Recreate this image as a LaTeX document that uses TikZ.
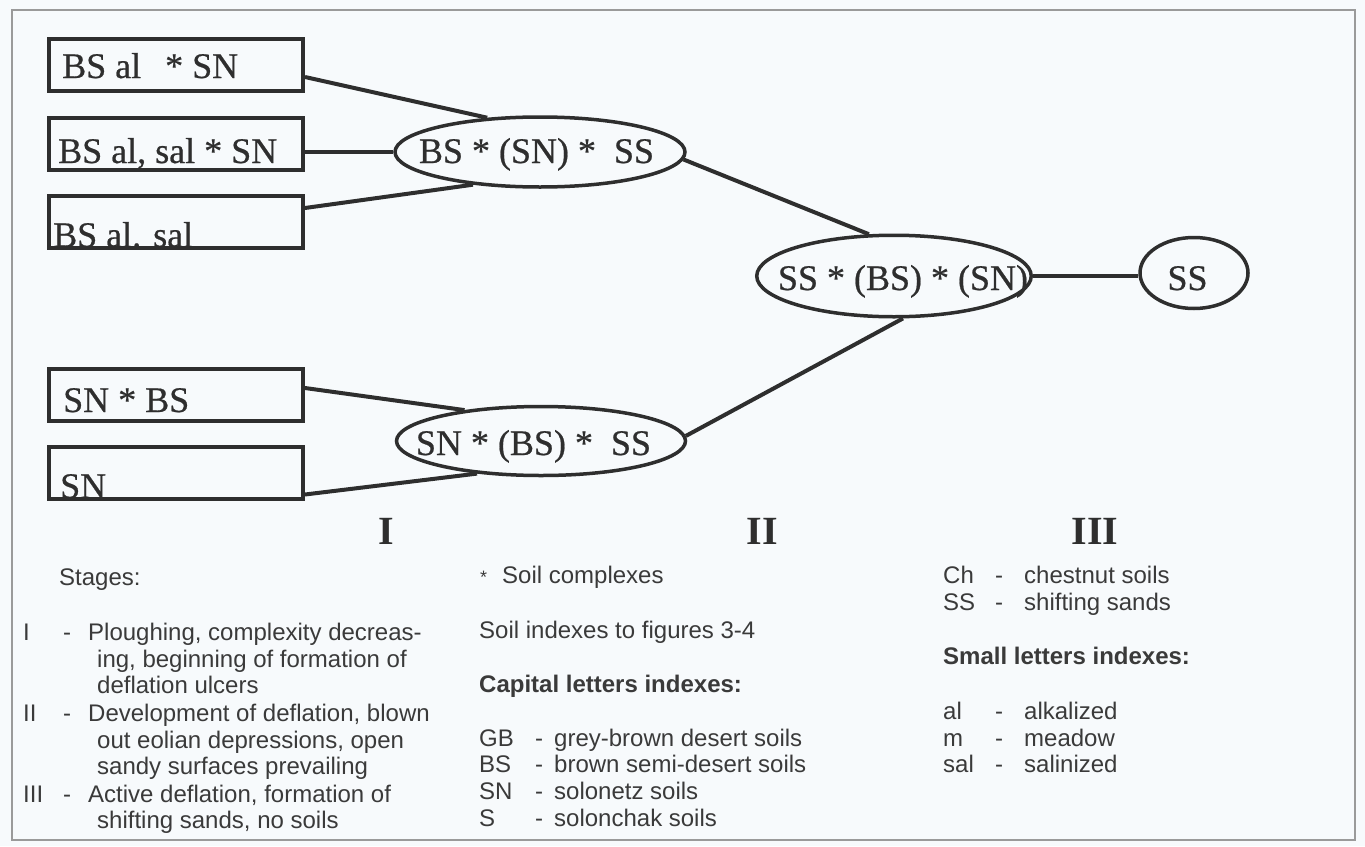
\documentclass[tikz,border=0pt]{standalone}
\usepackage{fontspec}
\setmainfont{Liberation Serif}
\newfontfamily\serifb{Liberation Serif}[FakeBold=0.6]
\newfontfamily\lsans{Liberation Sans}
\usetikzlibrary{shapes.geometric,calc}
\definecolor{ink}{HTML}{2E2E2E}
\definecolor{lgink}{HTML}{3A3A3A}
\definecolor{bg}{HTML}{F7FAFC}
\definecolor{framec}{HTML}{9A9A9A}
\begin{document}
\begin{tikzpicture}[x=1pt,y=-1pt,
  box/.style={draw=ink, line width=4pt, minimum width=254pt, minimum height=52pt, inner sep=0pt},
  ell/.style={ellipse, draw=ink, line width=3.5pt, inner sep=0pt},
  link/.style={draw=ink, line width=4pt},
  bt/.style={anchor=base west, inner sep=0pt, font=\serifb\fontsize{36}{36}\selectfont, text=ink},
  et/.style={anchor=base, inner sep=0pt, font=\serifb\fontsize{36}{36}\selectfont, text=ink},
  rn/.style={anchor=base, inner sep=0pt, font=\fontsize{40}{40}\selectfont\bfseries, text=ink},
  lg/.style={anchor=base west, inner sep=0pt, font=\lsans\fontsize{24}{26}\selectfont, text=lgink},
  lgb/.style={anchor=base west, inner sep=0pt, font=\lsans\bfseries\fontsize{24}{26}\selectfont, text=lgink}]

\fill[bg] (0,0) rectangle (1365,846);
\path[use as bounding box] (0,0) rectangle (1365,846);
\draw[framec, line width=1.5pt] (12,10) rectangle (1355,840);

% boxes
\node[box] (b1) at (176,65) {};
\node[box] (b2) at (176,143.5) {};
\node[box] (b3) at (176,221.5) {};
\node[box] (b4) at (176,395) {};
\node[box] (b5) at (176,472.5) {};
\node[bt] (t1) at (62,78) {BS al\hspace{24pt}* SN};
\node[bt] (t2) at (58,163) {BS al, sal * SN};
\node[bt] (t3) at (53,247) {BS al. sal};
\node[bt] (t4) at (63,412) {SN * BS};
\node[bt] (t5) at (60,498) {SN};

% ellipses
\node[ell, minimum width=290pt, minimum height=70pt] (e1) at (540,152) {};
\node[ell, minimum width=274.5pt, minimum height=81.5pt] (e2) at (894,276) {};
\node[ell, minimum width=108pt, minimum height=71pt] (ss) at (1194,273) {};
\node[ell, minimum width=289pt, minimum height=69pt] (e3) at (541,441) {};
\node[et] (e1t) at (536.5,163) {BS * (SN) *\ \ SS};
\node[et] (e2t) at (903,290) {SS * (BS) * (SN)};
\node[et] (sst) at (1187.5,290) {SS};
\node[et] (e3t) at (533.5,455) {SN * (BS) *\ \ SS};

% connectors
\draw[link] ($(b1.east)+(0,12)$) -- (e1.147);
\draw[link] (b2.east |- e1.west) -- (e1.west);
\draw[link] ($(b3.east)+(0,-13.5)$) -- (e1.206);
\draw[link] (e1.-3) -- (e2.121);
\draw[link] (e2.-78) -- (e3.2);
\draw[link] (e2.east) -- (e2.east -| ss.west);
\draw[link] ($(b4.east)+(0,-7)$) -- (e3.158);
\draw[link] ($(b5.east)+(0,22)$) -- (e3.207);

% stage numerals
\node[rn] (r1) at (386,544) {I};
\node[rn] (r2) at (762,544) {II};
\node[rn] (r3) at (1095,544) {III};

% column 1
\node[lg] (st) at (59,585) {Stages:};
\node[lg] (n1) at (23,640) {I};
\node[lg] (d1) at (63,640) {-};
\node[lg] (l1a) at (88,640) {Ploughing, complexity decreas-};
\node[lg] (l1b) at (97,667) {ing, beginning of formation of};
\node[lg] (l1c) at (97,693) {deflation ulcers};
\node[lg] (n2) at (23,721) {II};
\node[lg] (d2) at (63,721) {-};
\node[lg] (l2a) at (88,721) {Development of deflation, blown};
\node[lg] (l2b) at (97,748) {out eolian depressions, open};
\node[lg] (l2c) at (97,774) {sandy surfaces prevailing};
\node[lg] (n3) at (23,802) {III};
\node[lg] (d3) at (63,802) {-};
\node[lg] (l3a) at (88,802) {Active deflation, formation of};
\node[lg] (l3b) at (97,828) {shifting sands, no soils};

% column 2
\node[lg, font=\lsans\fontsize{18}{20}\selectfont] (ast) at (480,583) {*};
\node[lg] (sc) at (502,583) {Soil complexes};
\node[lg] (si) at (479,638) {Soil indexes to figures 3-4};
\node[lgb] (cap) at (479,692) {Capital letters indexes:};
\node[lg] (a1) at (479,746) {GB};
\node[lg] (h1) at (535,746) {-};
\node[lg] (m1) at (554,746) {grey-brown desert soils};
\node[lg] (a2) at (479,772) {BS};
\node[lg] (h2) at (535,772) {-};
\node[lg] (m2) at (554,772) {brown semi-desert soils};
\node[lg] (a3) at (479,799) {SN};
\node[lg] (h3) at (535,799) {-};
\node[lg] (m3) at (554,799) {solonetz soils};
\node[lg] (a4) at (479,826) {S};
\node[lg] (h4) at (535,826) {-};
\node[lg] (m4) at (554,826) {solonchak soils};

% column 3
\node[lg] (c1) at (943,583) {Ch};
\node[lg] (k1) at (995,583) {-};
\node[lg] (q1) at (1024,583) {chestnut soils};
\node[lg] (c2) at (943,610) {SS};
\node[lg] (k2) at (995,610) {-};
\node[lg] (q2) at (1024,610) {shifting sands};
\node[lgb] (sm) at (943,664) {Small letters indexes:};
\node[lg] (c3) at (943,719) {al};
\node[lg] (k3) at (995,719) {-};
\node[lg] (q3) at (1024,719) {alkalized};
\node[lg] (c4) at (943,746) {m};
\node[lg] (k4) at (995,746) {-};
\node[lg] (q4) at (1024,746) {meadow};
\node[lg] (c5) at (943,772) {sal};
\node[lg] (k5) at (995,772) {-};
\node[lg] (q5) at (1024,772) {salinized};
\end{tikzpicture}
\end{document}
